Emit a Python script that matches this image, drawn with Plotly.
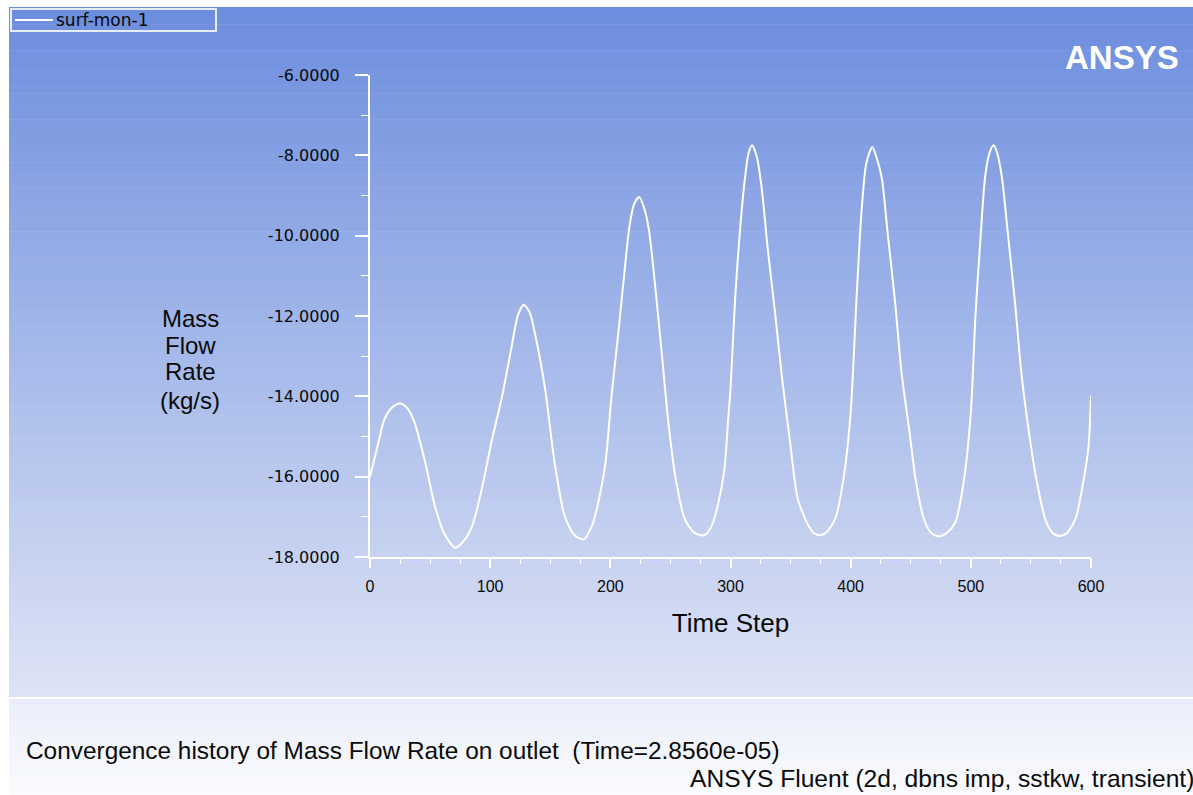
import plotly.graph_objects as go

# ---- data ----
time_step = [0, 7, 12, 18, 25, 31, 37, 46, 54, 62, 71, 78, 85, 93, 101, 110, 118, 123, 128, 133, 137,
             146, 150, 154, 162, 170, 178, 185, 190, 196, 201, 207, 212, 216, 220, 224, 228, 232, 237,
             243, 248, 254, 262, 270, 278, 284, 290, 295, 298, 300, 304, 308, 312, 315, 318, 322, 326,
             331, 337, 343, 350, 356, 365, 370, 375, 380, 387, 394, 400, 405, 409, 413, 418, 422, 426,
             431, 437, 442, 449, 454, 461, 467, 473, 480, 487, 494, 500, 504, 508, 512, 516, 519,
             522, 526, 531, 537, 542, 548, 555, 562, 568, 574, 580, 587, 594, 598, 600]
mass_flow = [-16.0, -15.15, -14.57, -14.29, -14.17, -14.29, -14.65, -15.65, -16.73, -17.43, -17.77, -17.6,
             -17.23, -16.31, -15.15, -13.99, -12.74, -11.99, -11.72, -11.92, -12.4,
             -13.87, -14.82, -15.73, -16.98, -17.45, -17.56, -17.2, -16.64, -15.65, -13.99, -12.32, -10.83,
             -9.75, -9.2, -9.04, -9.3, -9.83, -11.16,
             -12.99, -14.57, -15.98, -17.06, -17.4, -17.46, -17.25, -16.64, -15.8, -14.6, -13.82, -11.49,
             -9.83, -8.58, -7.95, -7.75, -8.05, -8.83,
             -10.33, -11.9, -13.57, -15.24, -16.56, -17.23, -17.42, -17.46, -17.38, -17.06, -16.06, -14.4,
             -11.49, -9.41, -8.2, -7.79, -8.1, -8.58,
             -10.0, -11.66, -13.32, -14.9, -16.06, -17.06, -17.4, -17.49, -17.4, -17.14, -16.14,
             -14.4, -11.9, -10.08, -8.5, -7.9, -7.75,
             -7.95, -8.58, -10.0, -11.74, -13.4, -14.82, -16.14, -17.06, -17.4, -17.48, -17.4, -17.06,
             -16.06, -15.23, -13.99]

y_tick_vals = [-18, -16, -14, -12, -10, -8, -6]
y_tick_text = ["-18.0000", "-16.0000", "-14.0000", "-12.0000", "-10.0000", "-8.0000", "-6.0000"]
x_tick_vals = [0, 100, 200, 300, 400, 500, 600]
x_tick_text = ["0", "100", "200", "300", "400", "500", "600"]

series_name = "surf-mon-1"
x_title = "Time Step"
y_title_lines = ["Mass", "Flow", "Rate", "(kg/s)"]
footer_left = "Convergence history of Mass Flow Rate on outlet  (Time=2.8560e-05)"
footer_right = "ANSYS Fluent (2d, dbns imp, sstkw, transient)"
brand = "ANSYS"

W, H = 1193, 795


def px(x):
    return x / W


def py(y):
    return 1 - y / H


fig = go.Figure()
fig.add_trace(go.Scatter(
    x=time_step, y=mass_flow, mode="lines", name=series_name, showlegend=False,
    line=dict(color="white", width=2, shape="spline", smoothing=0.7),
))

shapes = []
# background gradient (main panel)
top_c = (108, 141, 222)
bot_c = (222, 228, 245)
y0, y1 = 7, 697
n = 80
for i in range(n):
    t = (i + 0.5) / n
    c = tuple(int(round(top_c[k] + (bot_c[k] - top_c[k]) * t)) for k in range(3))
    ya = y0 + (y1 - y0) * i / n
    yb = y0 + (y1 - y0) * (i + 1) / n + 0.6
    shapes.append(dict(type="rect", xref="paper", yref="paper", layer="below",
                       x0=px(9), x1=1.0, y0=py(min(yb, y1)), y1=py(ya),
                       line=dict(width=0), fillcolor="rgb(%d,%d,%d)" % c))
# footer panel gradient
ftop = (234, 238, 250)
fbot = (250, 251, 254)
fy0, fy1 = 699, 795
m = 20
for i in range(m):
    t = (i + 0.5) / m
    c = tuple(int(round(ftop[k] + (fbot[k] - ftop[k]) * t)) for k in range(3))
    ya = fy0 + (fy1 - fy0) * i / m
    yb = fy0 + (fy1 - fy0) * (i + 1) / m + 0.6
    shapes.append(dict(type="rect", xref="paper", yref="paper", layer="below",
                       x0=px(9), x1=1.0, y0=py(min(yb, fy1)), y1=py(ya),
                       line=dict(width=0), fillcolor="rgb(%d,%d,%d)" % c))
# legend box and line sample
shapes.append(dict(type="rect", xref="paper", yref="paper", layer="above",
                   x0=px(11), x1=px(216), y0=py(31), y1=py(9),
                   line=dict(color="#E6ECFA", width=2), fillcolor="rgba(0,0,0,0)"))
shapes.append(dict(type="line", xref="paper", yref="paper", layer="above",
                   x0=px(15), x1=px(53), y0=py(20), y1=py(20),
                   line=dict(color="white", width=2)))

annotations = []
annotations.append(dict(text=series_name, x=px(54), y=py(20), xref="paper", yref="paper",
                        xanchor="left", yanchor="middle", showarrow=False,
                        font=dict(family="DejaVu Sans", size=17, color="#0a0a0a")))
y_centers = [318, 345, 371, 400]
for txt, yc in zip(y_title_lines, y_centers):
    annotations.append(dict(text=txt, x=px(190), y=py(yc), xref="paper", yref="paper",
                            xanchor="center", yanchor="middle", showarrow=False,
                            font=dict(family="Liberation Sans, Arial", size=24, color="#0a0a0a")))
annotations.append(dict(text=brand, x=px(1181), y=py(58), xref="paper", yref="paper",
                        xanchor="right", yanchor="middle", showarrow=False,
                        font=dict(family="Liberation Sans, Arial", size=33, color="white", weight="bold")))
annotations.append(dict(text=footer_left, x=px(24), y=py(750), xref="paper", yref="paper",
                        xanchor="left", yanchor="middle", showarrow=False,
                        font=dict(family="Liberation Sans, Arial", size=24.4, color="#0a0a0a")))
annotations.append(dict(text=footer_right, x=px(1196), y=py(778), xref="paper", yref="paper",
                        xanchor="right", yanchor="middle", showarrow=False,
                        font=dict(family="Liberation Sans, Arial", size=24.6, color="#0a0a0a")))

fig.update_layout(
    width=W, height=H,
    margin=dict(l=0, r=0, t=0, b=0, pad=0, autoexpand=False),
    paper_bgcolor="white",
    plot_bgcolor="rgba(0,0,0,0)",
    shapes=shapes,
    annotations=annotations,
    showlegend=False,
    xaxis=dict(
        domain=[px(370), px(1091)], range=[0, 600], showgrid=False, zeroline=False,
        automargin=False,
        showline=True, linecolor="white", linewidth=2,
        ticks="outside", tickcolor="white", ticklen=9, tickwidth=2,
        tickmode="array", tickvals=x_tick_vals, ticktext=x_tick_text,
        minor=dict(dtick=25, tick0=0, ticks="outside", ticklen=5, tickcolor="white", tickwidth=1),
        tickfont=dict(family="Liberation Sans, Arial", size=16, color="#0a0a0a"),
        ticklabelstandoff=5,
        title=dict(text=x_title, standoff=20,
                   font=dict(family="Liberation Sans, Arial", size=26, color="#0a0a0a")),
    ),
    yaxis=dict(
        domain=[py(557), py(75)], range=[-18, -6], showgrid=False, zeroline=False,
        automargin=False,
        showline=True, linecolor="white", linewidth=2,
        ticks="outside", tickcolor="white", ticklen=13, tickwidth=2,
        tickmode="array", tickvals=y_tick_vals, ticktext=y_tick_text,
        minor=dict(dtick=1, tick0=-18, ticks="outside", ticklen=7, tickcolor="white", tickwidth=1),
        tickfont=dict(family="DejaVu Sans", size=16, color="#0a0a0a"),
        ticklabelstandoff=12,
    ),
)

fig.write_html("out.html", config={"displayModeBar": False},
               post_script="document.body.style.margin='0';")
